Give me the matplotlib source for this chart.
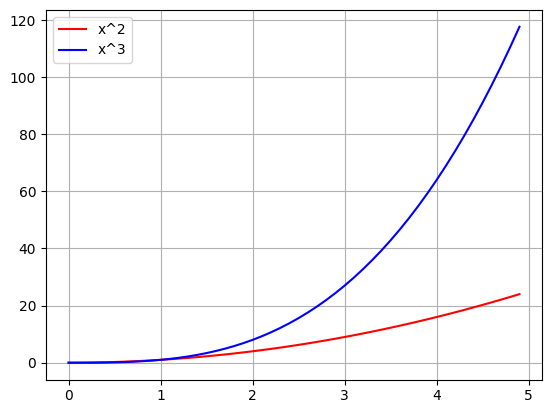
import matplotlib
matplotlib.use('Agg')
import matplotlib.pyplot as plt

# values (x step 0.1 from 0 to 4.9)
x = [0.0, 0.1, 0.2, 0.3, 0.4, 0.5, 0.6, 0.7, 0.8, 0.9,
     1.0, 1.1, 1.2, 1.3, 1.4, 1.5, 1.6, 1.7, 1.8, 1.9,
     2.0, 2.1, 2.2, 2.3, 2.4, 2.5, 2.6, 2.7, 2.8, 2.9,
     3.0, 3.1, 3.2, 3.3, 3.4, 3.5, 3.6, 3.7, 3.8, 3.9,
     4.0, 4.1, 4.2, 4.3, 4.4, 4.5, 4.6, 4.7, 4.8, 4.9]

y_square = [0.0, 0.01, 0.04, 0.09, 0.16, 0.25, 0.36, 0.49, 0.64, 0.81,
            1.0, 1.21, 1.44, 1.69, 1.96, 2.25, 2.56, 2.89, 3.24, 3.61,
            4.0, 4.41, 4.84, 5.29, 5.76, 6.25, 6.76, 7.29, 7.84, 8.41,
            9.0, 9.61, 10.24, 10.89, 11.56, 12.25, 12.96, 13.69, 14.44, 15.21,
            16.0, 16.81, 17.64, 18.49, 19.36, 20.25, 21.16, 22.09, 23.04, 24.01]

y_cube = [0.0, 0.001, 0.008, 0.027, 0.064, 0.125, 0.216, 0.343, 0.512, 0.729,
          1.0, 1.331, 1.728, 2.197, 2.744, 3.375, 4.096, 4.913, 5.832, 6.859,
          8.0, 9.261, 10.648, 12.167, 13.824, 15.625, 17.576, 19.683, 21.952, 24.389,
          27.0, 29.791, 32.768, 35.937, 39.304, 42.875, 46.656, 50.653, 54.872, 59.319,
          64.0, 68.921, 74.088, 79.507, 85.184, 91.125, 97.336, 103.823, 110.592, 117.649]

fig, ax = plt.subplots(figsize=(5.52, 4.13), dpi=100)
fig.subplots_adjust(left=46/552, right=542/552, top=1 - 10/413, bottom=1 - 379.5/413)

ax.plot(x, y_square, color='red', label='x^2')
ax.plot(x, y_cube, color='blue', label='x^3')
ax.legend(loc='upper left')
ax.grid(True)

fig.savefig('out.png', dpi=100)
